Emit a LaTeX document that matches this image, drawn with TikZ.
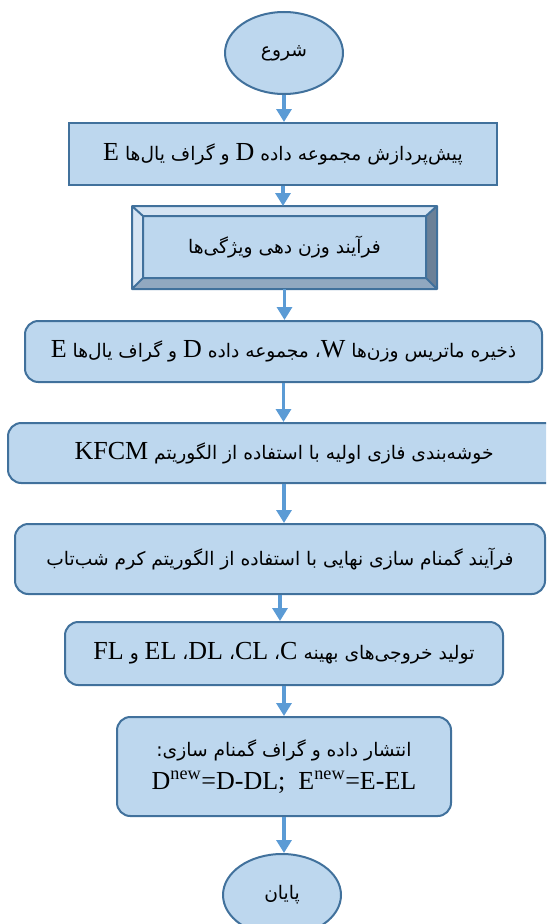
\documentclass[tikz,border=0pt]{standalone}
\usepackage{fontspec}
\setmainfont{Liberation Serif}
\newfontfamily\farsi[Script=Arabic]{DejaVu Sans}
\TeXXeTstate=1
\usetikzlibrary{shapes.geometric,arrows.meta,calc}
\definecolor{boxfill}{HTML}{BDD7EE}
\definecolor{boxline}{HTML}{41719C}
\definecolor{flowline}{HTML}{5B9BD5}
\definecolor{bevellight}{HTML}{D5E4F3}
\definecolor{beveldark}{HTML}{91A8C0}
\definecolor{bevelside}{HTML}{6B8097}
\newcommand\fatext[1]{{\farsi\fontsize{14}{25}\selectfont\beginR #1\endR}}
\newcommand\lat[1]{{\rmfamily\fontsize{19.5}{25}\selectfont #1}}
\begin{document}
\begin{tikzpicture}[x=0.75pt,y=-0.75pt,
    plain/.style={draw=boxline,fill=boxfill,line width=1.5pt,inner sep=0pt,align=center,
                  font=\fontsize{19.5}{25}\selectfont},
    roundbox/.style={plain,rounded corners=10pt},
    terminal/.style={plain,ellipse},
    flow/.style={draw=flowline,line width=2.4pt,-{Triangle[width=11.25pt,length=9.75pt]}}]
  \useasboundingbox (0,0) rectangle (546,924);
  \clip (0,0) rectangle (546,924);

  \node[terminal,minimum width=88.5pt,minimum height=61.5pt] (start) at (284,53) {\fatext{شروع}};
  \node[plain,minimum width=321pt,minimum height=46.5pt] (pre) at (283,154)
    {\fatext{پیش‌پردازش مجموعه داده \lat{D} و گراف یال‌ها \lat{E}}};
  \node[plain,minimum width=227.25pt,minimum height=60.75pt] (weight) at (284.5,247.5)
    {\fatext{فرآیند وزن دهی ویژگی‌ها}};
  % bevel faces of the weighting box
  \fill[bevellight] (weight.north west) -- (weight.north east) -- ($(weight.north east)+(-11,10)$)
    -- ($(weight.north west)+(11,10)$) -- cycle;
  \fill[bevellight] (weight.north west) -- ($(weight.north west)+(11,10)$)
    -- ($(weight.south west)+(11,-11)$) -- (weight.south west) -- cycle;
  \fill[beveldark] (weight.south west) -- ($(weight.south west)+(11,-11)$)
    -- ($(weight.south east)+(-11,-11)$) -- (weight.south east) -- cycle;
  \fill[bevelside] (weight.north east) -- (weight.south east)
    -- ($(weight.south east)+(-11,-11)$) -- ($(weight.north east)+(-11,10)$) -- cycle;
  \draw[boxline,line width=1.5pt,line join=round] (weight.north west) rectangle (weight.south east)
    ($(weight.north west)+(11,10)$) rectangle ($(weight.south east)+(-11,-11)$)
    (weight.north west) -- ++(11,10) (weight.north east) -- ++(-11,10)
    (weight.south west) -- ++(11,-11) (weight.south east) -- ++(-11,-11);
  \node[roundbox,minimum width=387.75pt,minimum height=45.75pt] (store) at (283.5,351.5)
    {\fatext{ذخیره ماتریس وزن‌ها \lat{W}، مجموعه داده \lat{D} و گراف یال‌ها \lat{E}}};
  \node[roundbox,minimum width=414pt,minimum height=45pt] (cluster) at (284,453)
    {\fatext{خوشه‌بندی فازی اولیه با استفاده از الگوریتم \lat{KFCM}}};
  \node[roundbox,minimum width=397.5pt,minimum height=52.5pt] (anon) at (280,559)
    {\fatext{فرآیند گمنام سازی نهایی با استفاده از الگوریتم کرم شب‌تاب}};
  \node[roundbox,minimum width=328.5pt,minimum height=47.25pt] (output) at (284,653.5)
    {\fatext{تولید خروجی‌های بهینه \lat{C}، \lat{CL}، \lat{DL}، \lat{EL} و \lat{FL}}};
  \node[roundbox,minimum width=250.5pt,minimum height=74.25pt] (publish) at (284,766.5)
    {\fatext{انتشار داده و گراف گمنام سازی:}\\
     \lat{D\textsuperscript{new}=D-DL;\ \ E\textsuperscript{new}=E-EL}};
  \node[terminal,minimum width=88.5pt,minimum height=61.5pt] (stop) at (282,895) {\fatext{پایان}};

  \foreach \a/\b in {start/pre,pre/weight,weight/store,store/cluster,cluster/anon,
                     anon/output,output/publish,publish/stop}
    \draw[flow] (\a.south) -- (\a.south |- \b.north);
\end{tikzpicture}
\end{document}
